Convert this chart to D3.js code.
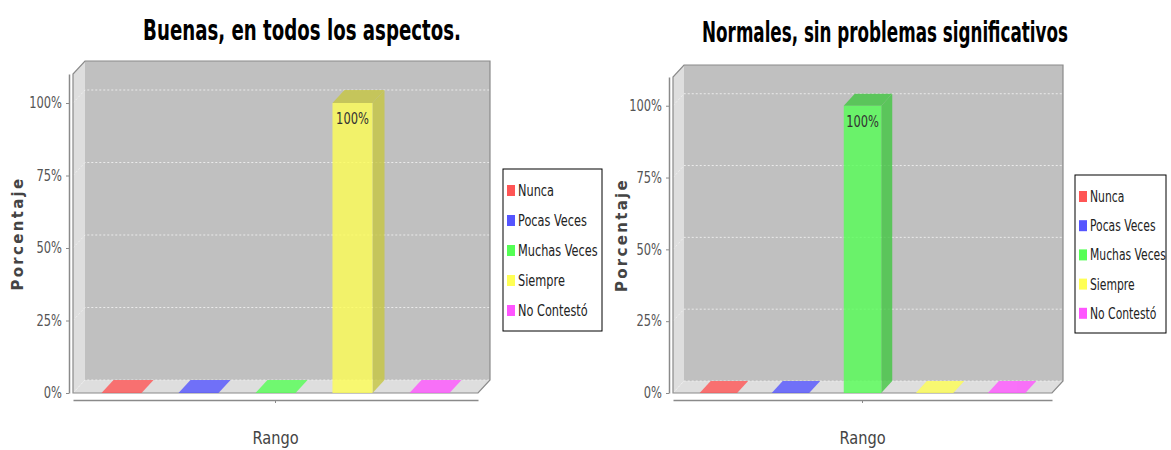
<!DOCTYPE html>
<html>
<head>
<meta charset="utf-8">
<script src="https://cdn.jsdelivr.net/npm/d3@7"></script>
<style>
  body { margin: 0; background: #fff; }
  text { font-family: 'Liberation Sans Narrow', 'DejaVu Sans Condensed', 'Liberation Sans', sans-serif; }
</style>
</head>
<body>
<div class="container"></div>
<script>
const series = ['Nunca', 'Pocas Veces', 'Muchas Veces', 'Siempre', 'No Contestó'];
const seriesColors = ['#ff5555', '#5555ff', '#55ff55', '#ffff55', '#ff55ff'];
const titles = ['Buenas, en todos los aspectos.', 'Normales, sin problemas significativos'];
const valuesBuenas = [0, 0, 0, 1, 0];
const valuesNormales = [0, 0, 1, 0, 0];
const yTicks = [0, 0.25, 0.5, 0.75, 1];
const yLabel = 'Porcentaje';
const xLabel = 'Rango';

const width = 1171;
const height = 450;

const svg = d3
  .select('.container')
  .append('svg')
  .attr('width', width)
  .attr('height', height);

// layout for each panel
const panels = [
  { title: titles[0], values: valuesBuenas, xL: 73, xR: 478, yT: 74, yB: 393, dx: 12, dy: 13,
    titleX: 302, titleY: 40, titleW: 318, legX: 503, legY: 169, legW: 99, legH: 162, yLabX: 17 },
  { title: titles[1], values: valuesNormales, xL: 673, xR: 1052, yT: 77, yB: 393, dx: 11, dy: 12,
    titleX: 885, titleY: 42, titleW: 366, legX: 1075, legY: 175, legW: 91, legH: 158, yLabX: 621 }
];

const darker = c => d3.color(c).darker(0.7);

// squeeze a text horizontally so it matches the condensed look of the original
const squeeze = (sel, k) => {
  sel.each(function() {
    const t = d3.select(this);
    const x = +t.attr('x') || 0;
    const y = +t.attr('y') || 0;
    t.attr('x', 0).attr('y', 0)
      .attr('transform', `translate(${x}, ${y}) scale(${k}, 1)`);
  });
};

const drawPanel = p => {
  const g = svg.append('g');

  const y = d3.scaleLinear().domain([0, 1.1]).range([p.yB, p.yT]);
  const x = d3.scaleBand().domain(series).range([p.xL, p.xR])
    .paddingInner(0.48).paddingOuter(0.37);
  const color = d3.scaleOrdinal().domain(series).range(seriesColors);

  const { xL, xR, yT, yB, dx, dy } = p;

  // walls
  g.append('path')
    .attr('d', `M${xL},${yB}L${xL},${yT}L${xL + dx},${yT - dy}L${xL + dx},${yB - dy}Z`)
    .attr('fill', '#dedede');
  g.append('path')
    .attr('d', `M${xL},${yB}L${xL + dx},${yB - dy}L${xR + dx},${yB - dy}L${xR},${yB}Z`)
    .attr('fill', '#dedede');
  g.append('rect')
    .attr('x', xL + dx).attr('y', yT - dy)
    .attr('width', xR - xL).attr('height', yB - yT)
    .attr('fill', '#c0c0c0');

  // gridlines
  yTicks.forEach(t => {
    g.append('path')
      .attr('d', `M${xL},${y(t)}L${xL + dx},${y(t) - dy}L${xR + dx},${y(t) - dy}`)
      .attr('fill', 'none')
      .attr('stroke', '#f0f0f0')
      .attr('stroke-dasharray', '2,2')
      .attr('opacity', 0.9);
  });

  // outline
  g.append('path')
    .attr('d', `M${xL},${yB}L${xL},${yT}L${xL + dx},${yT - dy}L${xR + dx},${yT - dy}L${xR + dx},${yB - dy}L${xR},${yB}Z`)
    .attr('fill', 'none')
    .attr('stroke', '#8a8a8a')
    .attr('stroke-width', 1.2);

  // bars
  const bw = x.bandwidth();
  const rows = series.map((s, i) => ({ key: s, value: p.values[i] }));
  const bars = g.selectAll('.bar')
    .data(rows)
    .enter()
    .append('g')
    .attr('class', 'bar')
    .attr('opacity', 0.8);

  bars.append('path')
    .attr('d', d => {
      const x0 = x(d.key), yv = y(d.value);
      return `M${x0 + bw},${yv}L${x0 + bw + dx},${yv - dy}L${x0 + bw + dx},${yB - dy}L${x0 + bw},${yB}Z`;
    })
    .attr('fill', d => darker(color(d.key)));

  bars.append('rect')
    .attr('x', d => x(d.key))
    .attr('y', d => y(d.value))
    .attr('width', bw)
    .attr('height', d => yB - y(d.value))
    .attr('fill', d => color(d.key));

  bars.append('path')
    .attr('d', d => {
      const x0 = x(d.key), yv = y(d.value);
      return `M${x0},${yv}L${x0 + dx},${yv - dy}L${x0 + bw + dx},${yv - dy}L${x0 + bw},${yv}Z`;
    })
    .attr('fill', d => d.value > 0 ? darker(color(d.key)) : color(d.key));

  // value labels
  g.selectAll('.val')
    .data(rows.filter(d => d.value > 0))
    .enter()
    .append('text')
    .attr('x', d => x(d.key) + bw / 2)
    .attr('y', d => y(d.value) + 21)
    .attr('text-anchor', 'middle')
    .attr('font-size', 15)
    .attr('fill', '#333')
    .text(d => d3.format('.0%')(d.value))
    .call(squeeze, 0.85);

  // y axis
  const yAxis = g.append('g')
    .attr('transform', `translate(${xL - 4}, 0)`)
    .call(d3.axisLeft(y).tickValues(yTicks).tickFormat(d3.format('.0%'))
      .tickSize(3).tickSizeOuter(0).tickPadding(3));
  yAxis.select('.domain').attr('stroke', '#8a8a8a').attr('stroke-width', 1.5);
  yAxis.selectAll('.tick line').attr('stroke', '#8a8a8a');
  yAxis.selectAll('.tick text')
    .attr('font-size', 15)
    .attr('fill', '#555')
    .attr('font-family', "'Liberation Sans Narrow', 'DejaVu Sans Condensed', sans-serif")
    .attr('x', -7)
    .attr('dy', '0.32em')
    .each(function() {
      d3.select(this).attr('transform', 'scale(0.85, 1)').attr('x', -7 / 0.85);
    });

  // x axis
  const xCat = d3.scaleBand().domain(['']).range([xL, xR]);
  const xAxis = g.append('g')
    .attr('transform', `translate(0, ${yB + 7})`)
    .call(d3.axisBottom(xCat).tickSize(3).tickSizeOuter(0).tickFormat(() => ''));
  xAxis.select('.domain').attr('stroke', '#8a8a8a').attr('stroke-width', 1.5);
  xAxis.selectAll('.tick line').attr('stroke', '#8a8a8a');

  // axis labels
  g.append('text')
    .attr('x', (xL + xR) / 2)
    .attr('y', yB + 51)
    .attr('text-anchor', 'middle')
    .attr('font-size', 18)
    .attr('fill', '#444')
    .text(xLabel)
    .call(squeeze, 0.9);

  g.append('text')
    .attr('transform', `translate(${p.yLabX + 6}, ${(yT + yB) / 2}) rotate(-90)`)
    .attr('text-anchor', 'middle')
    .attr('font-size', 15)
    .attr('font-weight', 'bold')
    .attr('letter-spacing', 2.3)
    .attr('fill', '#444')
    .style('font-family', "'DejaVu Sans', sans-serif")
    .text(yLabel);

  // title, squeezed to the width of the original
  const title = g.append('text')
    .attr('text-anchor', 'middle')
    .attr('font-size', 29)
    .attr('font-weight', 'bold')
    .attr('fill', '#000')
    .text(p.title);
  const natural = title.node().getComputedTextLength();
  title.attr('transform', `translate(${p.titleX}, ${p.titleY}) scale(${p.titleW / natural}, 1)`);

  // legend
  const leg = g.append('g').attr('transform', `translate(${p.legX}, ${p.legY})`);
  leg.append('rect')
    .attr('width', p.legW)
    .attr('height', p.legH)
    .attr('fill', '#fff')
    .attr('stroke', '#000');
  const step = (p.legH - 12) / series.length;
  const items = leg.selectAll('.item')
    .data(series)
    .enter()
    .append('g')
    .attr('transform', (d, i) => `translate(4, ${22 + i * step})`);
  items.append('rect')
    .attr('x', 0).attr('y', -6)
    .attr('width', 8).attr('height', 11)
    .attr('fill', d => color(d));
  items.append('text')
    .attr('x', 11)
    .attr('y', 5)
    .attr('font-size', 15)
    .attr('fill', '#222')
    .text(d => d)
    .call(squeeze, p.legW < 95 ? 0.8 : 0.84);
};

panels.forEach(drawPanel);
</script>
</body>
</html>
